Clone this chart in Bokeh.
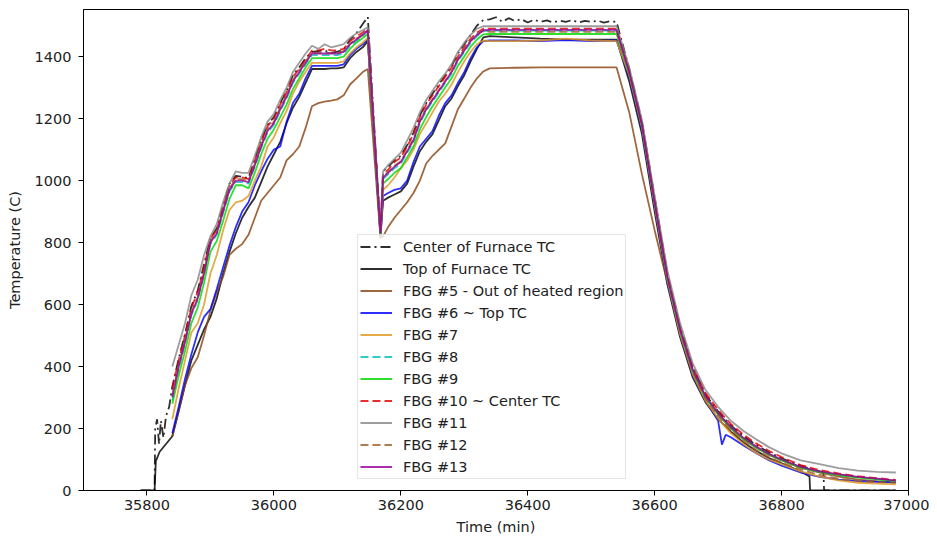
from bokeh.plotting import figure
from bokeh.models import Range1d, FixedTicker, Legend, LegendItem
from bokeh.embed import file_html
from bokeh.resources import INLINE

# ---------------- data ----------------
T_RISE1 = [35840, 35850, 35860, 35870, 35880, 35890, 35900, 35910, 35920, 35930,
           35940, 35950, 35960, 35970, 35980, 35990, 36000, 36010, 36020, 36030,
           36040, 36050, 36060, 36070, 36080, 36090, 36100, 36110, 36120, 36130,
           36140, 36148, 36168]
T_RISE2 = [36172, 36180, 36190, 36200, 36210, 36220, 36230, 36240, 36250, 36260,
           36270, 36280, 36290, 36300, 36310, 36320, 36330]
T_HOLD = [36340, 36380, 36420, 36460, 36500, 36540]
T_COOL = [36560, 36580, 36600, 36620, 36640, 36660, 36680, 36700, 36720, 36740,
          36760, 36780, 36800, 36830, 36860, 36890, 36920, 36950, 36980]
T_MAIN = T_RISE1 + T_RISE2 + T_HOLD + T_COOL

# Center of Furnace TC (own time base: noisy hold, drops to 0 near the end)
center_tc_t = ([35790, 35812, 35813, 35816, 35819, 35822, 35826, 35830, 35835]
               + T_RISE1 + T_RISE2
               + [36340, 36350, 36360, 36370, 36380, 36390, 36400, 36410, 36420, 36430,
                  36440, 36450, 36460, 36470, 36480, 36490, 36500, 36510, 36520, 36530, 36540]
               + T_COOL[:15] + [36866, 36867, 36980])
center_tc = ([0, 0, 200, 230, 150, 225, 170, 240, 270]
             + [335, 425, 505, 595, 645, 730, 815, 845, 920, 990,
                1015, 1012, 1008, 1070, 1130, 1180, 1205, 1250, 1290, 1340,
                1365, 1395, 1415, 1418, 1420, 1412, 1416, 1422, 1455, 1475,
                1505, 1528, 830]
             + [1030, 1045, 1065, 1080, 1115, 1155, 1210, 1250, 1280, 1310,
                1340, 1370, 1410, 1440, 1470, 1500, 1518]
             + [1520, 1527, 1512, 1524, 1515, 1521, 1510, 1519, 1512, 1517,
                1510, 1516, 1512, 1518, 1510, 1515, 1512, 1516, 1510, 1514, 1512]
             + [1360, 1190, 945, 700, 530, 398, 310, 255, 210, 175, 147, 123, 104, 80, 62]
             + [58, 0, 0])

# Top of Furnace TC (drops to 0 near the end)
top_tc_t = [35790, 35812, 35814, 35820, 35830] + T_MAIN[:70] + [36844, 36845, 36980]
top_tc = ([0, 0, 95, 125, 150]
          + [175, 255, 340, 420, 470, 520, 560, 620, 700, 770,
             830, 880, 915, 945, 995, 1045, 1085, 1125, 1185, 1235,
             1270, 1315, 1360, 1360, 1360, 1362, 1362, 1365, 1395, 1415,
             1430, 1450, 820]
          + [935, 945, 955, 965, 990, 1045, 1095, 1125, 1150, 1195,
             1240, 1265, 1305, 1340, 1385, 1425, 1462]
          + [1466, 1462, 1458, 1455, 1455, 1455]
          + [1320, 1150, 900, 665, 495, 365, 285, 230, 190, 155, 128, 105, 88, 62]
          + [45, 0, 0])

fbg5 = [175, 260, 340, 395, 430, 500, 580, 640, 690, 760,
        780, 795, 825, 880, 935, 960, 985, 1010, 1065, 1085,
        1110, 1170, 1240, 1250, 1255, 1258, 1262, 1275, 1310, 1330,
        1350, 1360, 815,
        820, 850, 880, 905, 930, 960, 1000, 1055, 1080, 1100,
        1120, 1175, 1230, 1265, 1300, 1330, 1352,
        1362, 1364, 1365, 1365, 1365, 1365,
        1220, 1020, 840, 670, 510, 385, 300, 245, 200, 165,
        138, 115, 97, 74, 58, 45, 35, 30, 26]

# FBG #6 has a short dip during cooling, so it gets two extra time points
fbg6_t = T_MAIN[:64] + [36706, 36712] + T_MAIN[64:]
fbg6 = [185, 270, 360, 440, 510, 560, 585, 650, 720, 790,
        850, 900, 930, 985, 1030, 1070, 1100, 1110, 1190, 1250,
        1280, 1330, 1370, 1370, 1370, 1370, 1370, 1375, 1405, 1425,
        1440, 1455, 822,
        950, 960, 970, 975, 1000, 1060, 1110, 1135, 1160, 1210,
        1250, 1275, 1315, 1350, 1395, 1430, 1450,
        1452, 1452, 1450, 1453, 1450, 1452,
        1335, 1165, 915, 675, 505, 372, 290, 225, 148, 180, 172, 145,
        120, 98, 80, 58, 44, 35, 30, 28, 26]

fbg7 = [230, 330, 420, 510, 540, 600, 700, 760, 840, 905,
        930, 935, 950, 1000, 1045, 1110, 1140, 1185, 1225, 1280,
        1320, 1350, 1380, 1380, 1380, 1380, 1380, 1385, 1410, 1430,
        1445, 1460, 825,
        970, 985, 1010, 1040, 1065, 1100, 1150, 1185, 1220, 1255,
        1280, 1310, 1350, 1385, 1415, 1440, 1452,
        1450, 1450, 1452, 1458, 1452, 1450,
        1340, 1170, 920, 680, 505, 375, 290, 232, 185, 150,
        120, 100, 85, 62, 45, 33, 25, 22, 20]

fbg8 = [290, 390, 475, 565, 615, 695, 795, 825, 895, 965,
        995, 995, 990, 1045, 1105, 1155, 1180, 1225, 1265, 1315,
        1345, 1375, 1405, 1405, 1405, 1405, 1405, 1410, 1435, 1450,
        1466, 1482, 830,
        1005, 1020, 1040, 1055, 1090, 1125, 1185, 1225, 1255, 1285,
        1315, 1345, 1385, 1415, 1445, 1466, 1482,
        1484, 1484, 1484, 1484, 1484, 1484,
        1348, 1178, 928, 688, 518, 388, 303, 248, 203, 168,
        140, 117, 99, 75, 61, 51, 43, 37, 31]

fbg9 = [280, 370, 450, 540, 590, 670, 770, 805, 870, 940,
        985, 985, 975, 1025, 1085, 1135, 1165, 1205, 1245, 1295,
        1330, 1365, 1395, 1395, 1395, 1395, 1395, 1400, 1425, 1445,
        1460, 1472, 828,
        990, 1005, 1025, 1040, 1075, 1110, 1165, 1205, 1240, 1270,
        1300, 1330, 1370, 1400, 1432, 1455, 1472,
        1473, 1473, 1473, 1473, 1473, 1473,
        1345, 1175, 925, 685, 515, 385, 300, 247, 202, 167,
        140, 116, 98, 74, 60, 50, 42, 36, 30]

fbg10 = [330, 420, 500, 590, 640, 720, 815, 840, 915, 985,
         1010, 1010, 1005, 1065, 1125, 1175, 1200, 1245, 1285, 1335,
         1360, 1390, 1420, 1420, 1425, 1420, 1420, 1425, 1450, 1465,
         1478, 1490, 835,
         1020, 1035, 1060, 1075, 1110, 1150, 1205, 1245, 1275, 1305,
         1335, 1365, 1400, 1430, 1458, 1478, 1490,
         1490, 1490, 1490, 1490, 1490, 1490,
         1355, 1185, 940, 700, 530, 400, 315, 260, 215, 180,
         152, 128, 108, 82, 66, 55, 46, 40, 34]

fbg11 = [400, 470, 540, 630, 680, 760, 820, 860, 930, 990,
         1030, 1025, 1025, 1080, 1140, 1190, 1215, 1260, 1300, 1350,
         1380, 1410, 1435, 1425, 1440, 1430, 1435, 1440, 1460, 1475,
         1485, 1495, 840,
         1030, 1050, 1070, 1090, 1130, 1170, 1220, 1260, 1290, 1320,
         1345, 1375, 1415, 1445, 1470, 1490, 1498,
         1498, 1498, 1498, 1498, 1498, 1498,
         1365, 1195, 950, 710, 540, 410, 325, 270, 225, 192,
         165, 140, 120, 97, 85, 72, 64, 60, 58]

fbg12 = [310, 405, 485, 575, 625, 705, 805, 835, 905, 975,
         1005, 1005, 1000, 1055, 1115, 1165, 1190, 1235, 1275, 1325,
         1355, 1385, 1412, 1412, 1412, 1412, 1412, 1418, 1442, 1458,
         1472, 1483, 832,
         1012, 1028, 1048, 1062, 1098, 1135, 1192, 1232, 1262, 1292,
         1322, 1352, 1392, 1422, 1452, 1472, 1483,
         1480, 1480, 1480, 1480, 1480, 1480,
         1347, 1177, 927, 687, 515, 383, 297, 240, 195, 160,
         130, 108, 90, 68, 50, 38, 30, 27, 25]

fbg13 = [300, 400, 480, 570, 620, 700, 800, 830, 900, 970,
         1000, 1000, 995, 1050, 1110, 1160, 1185, 1230, 1270, 1320,
         1350, 1380, 1410, 1410, 1410, 1410, 1410, 1415, 1440, 1455,
         1470, 1485, 830,
         1010, 1025, 1045, 1060, 1095, 1130, 1190, 1230, 1260, 1290,
         1320, 1350, 1390, 1420, 1450, 1470, 1485,
         1486, 1486, 1486, 1486, 1486, 1486,
         1350, 1180, 930, 690, 520, 390, 305, 250, 205, 170,
         142, 118, 100, 76, 62, 52, 44, 38, 32]

X_TICKS = [35800, 36000, 36200, 36400, 36600, 36800, 37000]
Y_TICKS = [0, 200, 400, 600, 800, 1000, 1200, 1400]

SERIES = [
    ("Center of Furnace TC", center_tc_t, center_tc, "#000000", "10 4 2 4"),
    ("Top of Furnace TC", top_tc_t, top_tc, "#000000", "solid"),
    ("FBG #5 - Out of heated region", T_MAIN, fbg5, "#8B4513", "solid"),
    ("FBG #6 ~ Top TC", fbg6_t, fbg6, "#0000FF", "solid"),
    ("FBG #7", T_MAIN, fbg7, "#E0961E", "solid"),
    ("FBG #8", T_MAIN, fbg8, "#00BFBF", "8 4"),
    ("FBG #9", T_MAIN, fbg9, "#00D800", "solid"),
    ("FBG #10 ~ Center TC", T_MAIN, fbg10, "#E00000", "8 4"),
    ("FBG #11", T_MAIN, fbg11, "#888888", "solid"),
    ("FBG #12", T_MAIN, fbg12, "#A0602A", "8 4"),
    ("FBG #13", T_MAIN, fbg13, "#990099", "solid"),
]

FONT = "DejaVu Sans"
FS = "14.5px"

p = figure(width=929, height=536, frame_width=825, frame_height=481,
           output_backend="svg", toolbar_location=None,
           x_range=Range1d(35700, 37000), y_range=Range1d(0, 1552),
           min_border_left=83, min_border_right=21, min_border_top=9, min_border_bottom=46)
p.background_fill_color = "white"
p.border_fill_color = "white"
p.outline_line_color = "black"
p.outline_line_width = 1
p.xgrid.visible = False
p.ygrid.visible = False

items = []
for label, xs, ys, color, dash in SERIES:
    r = p.line(xs, ys, line_color=color, line_width=1.8, line_alpha=0.82, line_dash=dash)
    items.append(LegendItem(label=label, renderers=[r]))

for ax in (p.xaxis, p.yaxis):
    ax.axis_line_color = "black"
    ax.major_tick_line_color = "black"
    ax.minor_tick_line_color = None
    ax.major_tick_out = 5
    ax.major_tick_in = 0
    ax.major_label_text_font = FONT
    ax.major_label_text_font_size = FS
    ax.major_label_text_color = "#222222"
    ax.axis_label_text_font = FONT
    ax.axis_label_text_font_size = FS
    ax.axis_label_text_font_style = "normal"
    ax.axis_label_text_color = "#222222"

p.xaxis.ticker = FixedTicker(ticks=X_TICKS)
p.yaxis.ticker = FixedTicker(ticks=Y_TICKS)
p.xaxis.major_label_standoff = 4
p.yaxis.major_label_standoff = 7
p.xaxis.axis_label = "Time (min)"
p.yaxis.axis_label = "Temperature (C)"
p.xaxis.axis_label_standoff = 6
p.yaxis.axis_label_standoff = 9

legend = Legend(items=items, location=(274, 11))
legend.label_text_font = FONT
legend.label_text_font_size = FS
legend.label_text_color = "#222222"
legend.glyph_width = 32
legend.glyph_height = 19
legend.label_height = 19
legend.spacing = 3
legend.padding = 2
legend.margin = 0
legend.label_standoff = 11
legend.border_line_color = "#cccccc"
legend.background_fill_alpha = 0.8
p.add_layout(legend)

open("out.html", "w").write(file_html(p, INLINE))
